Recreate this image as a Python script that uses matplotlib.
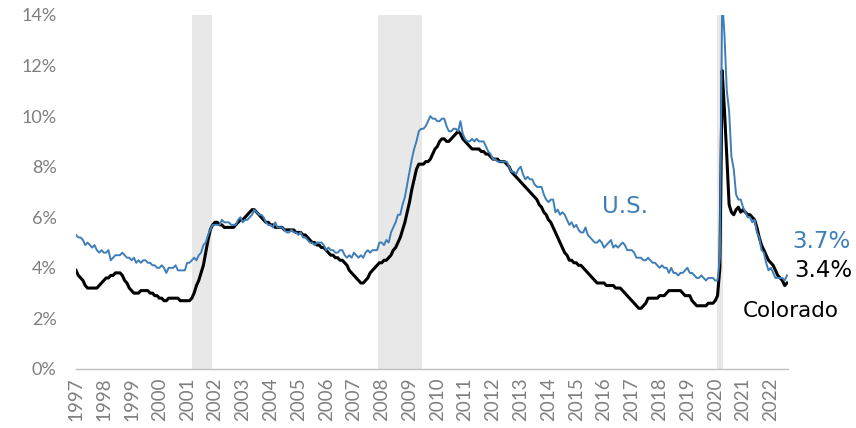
import numpy as np
import pandas as pd
import matplotlib
matplotlib.use("Agg")
import matplotlib.pyplot as plt

plt.rcParams['font.family'] = ['Lato', 'DejaVu Sans']

# monthly unemployment rate, Jan 1997 - Aug 2022
us_rate = [
    5.3, 5.2, 5.2, 5.1, 4.9, 5.0, 4.9, 4.8, 4.9, 4.7, 4.6, 4.7,   # 1997
    4.6, 4.6, 4.7, 4.3, 4.4, 4.5, 4.5, 4.5, 4.6, 4.5, 4.4, 4.4,   # 1998
    4.3, 4.4, 4.2, 4.3, 4.2, 4.3, 4.3, 4.2, 4.2, 4.1, 4.1, 4.0,   # 1999
    4.0, 4.1, 4.0, 3.8, 4.0, 4.0, 4.0, 4.1, 3.9, 3.9, 3.9, 3.9,   # 2000
    4.2, 4.2, 4.3, 4.4, 4.3, 4.5, 4.6, 4.9, 5.0, 5.3, 5.5, 5.7,   # 2001
    5.7, 5.7, 5.7, 5.9, 5.8, 5.8, 5.8, 5.7, 5.7, 5.7, 5.9, 6.0,   # 2002
    5.8, 5.9, 5.9, 6.0, 6.1, 6.3, 6.2, 6.1, 6.1, 6.0, 5.8, 5.7,   # 2003
    5.7, 5.6, 5.8, 5.6, 5.6, 5.6, 5.5, 5.4, 5.4, 5.5, 5.4, 5.4,   # 2004
    5.3, 5.4, 5.2, 5.2, 5.1, 5.0, 5.0, 4.9, 5.0, 5.0, 5.0, 4.9,   # 2005
    4.7, 4.8, 4.7, 4.7, 4.6, 4.6, 4.7, 4.7, 4.5, 4.4, 4.5, 4.4,   # 2006
    4.6, 4.5, 4.4, 4.5, 4.4, 4.6, 4.7, 4.6, 4.7, 4.7, 4.7, 5.0,   # 2007
    5.0, 4.9, 5.1, 5.0, 5.4, 5.6, 5.8, 6.1, 6.1, 6.5, 6.8, 7.3,   # 2008
    7.8, 8.3, 8.7, 9.0, 9.4, 9.5, 9.5, 9.6, 9.8, 10.0, 9.9, 9.9,  # 2009
    9.8, 9.8, 9.9, 9.9, 9.6, 9.4, 9.4, 9.5, 9.5, 9.4, 9.8, 9.3,   # 2010
    9.1, 9.0, 9.0, 9.1, 9.0, 9.1, 9.0, 9.0, 9.0, 8.8, 8.6, 8.5,   # 2011
    8.3, 8.3, 8.2, 8.2, 8.2, 8.2, 8.2, 8.0, 7.8, 7.8, 7.7, 7.9,   # 2012
    8.0, 7.7, 7.5, 7.6, 7.5, 7.5, 7.3, 7.2, 7.2, 7.2, 6.9, 6.7,   # 2013
    6.6, 6.7, 6.7, 6.2, 6.3, 6.1, 6.2, 6.1, 5.9, 5.7, 5.8, 5.6,   # 2014
    5.7, 5.5, 5.4, 5.4, 5.6, 5.3, 5.2, 5.1, 5.0, 5.0, 5.1, 5.0,   # 2015
    4.8, 4.9, 5.0, 5.1, 4.8, 4.9, 4.8, 4.9, 5.0, 4.9, 4.7, 4.7,   # 2016
    4.7, 4.6, 4.4, 4.4, 4.4, 4.3, 4.3, 4.4, 4.3, 4.2, 4.2, 4.1,   # 2017
    4.0, 4.1, 4.0, 4.0, 3.8, 4.0, 3.8, 3.8, 3.7, 3.8, 3.8, 3.9,   # 2018
    4.0, 3.8, 3.8, 3.7, 3.6, 3.6, 3.7, 3.6, 3.5, 3.6, 3.6, 3.6,   # 2019
    3.5, 3.5, 4.4, 14.7, 13.2, 11.0, 10.2, 8.4, 7.9, 6.9, 6.7, 6.7,  # 2020
    6.4, 6.2, 6.0, 6.0, 5.8, 5.9, 5.4, 5.2, 4.7, 4.6, 4.2, 3.9,   # 2021
    4.0, 3.8, 3.6, 3.6, 3.6, 3.6, 3.5, 3.7,                       # 2022
]

co_rate = [
    3.9, 3.7, 3.6, 3.5, 3.3, 3.2, 3.2, 3.2, 3.2, 3.2, 3.3, 3.4,   # 1997
    3.5, 3.6, 3.6, 3.7, 3.7, 3.8, 3.8, 3.8, 3.7, 3.5, 3.4, 3.2,   # 1998
    3.1, 3.0, 3.0, 3.0, 3.1, 3.1, 3.1, 3.1, 3.0, 3.0, 2.9, 2.9,   # 1999
    2.8, 2.8, 2.7, 2.7, 2.8, 2.8, 2.8, 2.8, 2.8, 2.7, 2.7, 2.7,   # 2000
    2.7, 2.7, 2.8, 3.0, 3.3, 3.5, 3.8, 4.1, 4.6, 5.1, 5.5, 5.7,   # 2001
    5.8, 5.8, 5.7, 5.7, 5.6, 5.6, 5.6, 5.6, 5.6, 5.7, 5.8, 5.9,   # 2002
    5.9, 6.0, 6.1, 6.2, 6.3, 6.3, 6.2, 6.1, 6.0, 5.9, 5.8, 5.8,   # 2003
    5.7, 5.7, 5.6, 5.6, 5.6, 5.6, 5.5, 5.5, 5.5, 5.5, 5.5, 5.4,   # 2004
    5.4, 5.4, 5.3, 5.3, 5.2, 5.1, 5.0, 5.0, 4.9, 4.9, 4.8, 4.8,   # 2005
    4.7, 4.6, 4.5, 4.5, 4.4, 4.4, 4.3, 4.3, 4.2, 4.1, 3.9, 3.8,   # 2006
    3.7, 3.6, 3.5, 3.4, 3.4, 3.5, 3.6, 3.8, 3.9, 4.0, 4.1, 4.2,   # 2007
    4.2, 4.3, 4.3, 4.4, 4.5, 4.7, 4.8, 5.0, 5.2, 5.5, 5.8, 6.2,   # 2008
    6.6, 7.1, 7.5, 7.9, 8.1, 8.1, 8.1, 8.2, 8.2, 8.3, 8.5, 8.7,   # 2009
    8.8, 9.0, 9.1, 9.1, 9.0, 9.0, 9.1, 9.2, 9.3, 9.4, 9.3, 9.1,   # 2010
    9.0, 8.9, 8.8, 8.7, 8.7, 8.7, 8.7, 8.6, 8.6, 8.5, 8.5, 8.4,   # 2011
    8.3, 8.3, 8.3, 8.2, 8.2, 8.2, 8.1, 8.0, 7.8, 7.7, 7.6, 7.5,   # 2012
    7.4, 7.3, 7.2, 7.1, 7.0, 6.9, 6.8, 6.7, 6.5, 6.4, 6.2, 6.1,   # 2013
    5.9, 5.8, 5.6, 5.4, 5.2, 5.0, 4.8, 4.6, 4.5, 4.3, 4.3, 4.2,   # 2014
    4.2, 4.1, 4.1, 4.0, 3.9, 3.8, 3.7, 3.6, 3.5, 3.4, 3.4, 3.4,   # 2015
    3.4, 3.3, 3.3, 3.3, 3.3, 3.2, 3.2, 3.2, 3.1, 3.0, 2.9, 2.8,   # 2016
    2.7, 2.6, 2.5, 2.4, 2.4, 2.5, 2.6, 2.8, 2.8, 2.8, 2.8, 2.8,   # 2017
    2.9, 2.9, 2.9, 3.0, 3.1, 3.1, 3.1, 3.1, 3.1, 3.1, 3.0, 2.9,   # 2018
    2.9, 2.9, 2.7, 2.6, 2.5, 2.5, 2.5, 2.5, 2.5, 2.6, 2.6, 2.6,   # 2019
    2.7, 2.9, 4.0, 11.8, 10.2, 8.4, 6.5, 6.2, 6.1, 6.3, 6.4, 6.2,  # 2020
    6.3, 6.2, 6.1, 6.1, 6.0, 5.9, 5.6, 5.2, 4.9, 4.7, 4.5, 4.3,   # 2021
    4.2, 4.1, 3.9, 3.7, 3.6, 3.5, 3.3, 3.4,                       # 2022
]

# recession periods (start, end) as fractional years
recessions = [(2001.17, 2001.88), (2007.88, 2009.45), (2020.06, 2020.28)]

years = list(range(1997, 2023))
y_ticks = [0, 2, 4, 6, 8, 10, 12, 14]

blue = '#3E7FB9'
gray_text = '#7F7F7F'
label_font = ['DejaVu Sans']

dates = pd.date_range('1997-01-01', periods=len(us_rate), freq='MS')
x = dates.year + (dates.month - 1) / 12

fig = plt.figure(figsize=(8.56, 4.28), dpi=100)
ax = fig.add_axes([0.0888, 0.1379, 0.8318, 0.8271])

# shaded recessions
for start, end in recessions:
    ax.axvspan(start, end, color='#E8E8E8', lw=0, zorder=0)

ax.plot(x, co_rate, color='black', lw=2.2, zorder=3)
ax.plot(x, us_rate, color=blue, lw=1.4, zorder=4)

ax.set_xlim(1997, 2022.62)
ax.set_ylim(0, 14)

ax.set_yticks(y_ticks)
ax.set_yticklabels([f'{t}%' for t in y_ticks])
ax.set_xticks(years)
ax.set_xticklabels([str(y) for y in years], rotation=90)

ax.tick_params(axis='y', length=0, pad=14, labelsize=13, labelcolor=gray_text)
ax.tick_params(axis='x', length=0, pad=6, labelsize=13.5, labelcolor=gray_text)

for side in ['left', 'right', 'top']:
    ax.spines[side].set_visible(False)
ax.spines['bottom'].set_color('#BFBFBF')
ax.spines['bottom'].set_linewidth(1)

# series labels
ax.text(2015.92, 6.17, 'U.S.', color=blue, fontsize=16.5, family=label_font,
        ha='left', va='baseline')
ax.text(2022.79, 4.78, f'{us_rate[-1]}%', color=blue, fontsize=16.5, family=label_font,
        ha='left', va='baseline')
ax.text(2022.85, 3.64, f'{co_rate[-1]}%', color='black', fontsize=16.5, family=label_font,
        ha='left', va='baseline')
ax.text(2020.99, 2.06, 'Colorado', color='black', fontsize=15.5, family=label_font,
        ha='left', va='baseline')

fig.savefig('out.png', dpi=100)
